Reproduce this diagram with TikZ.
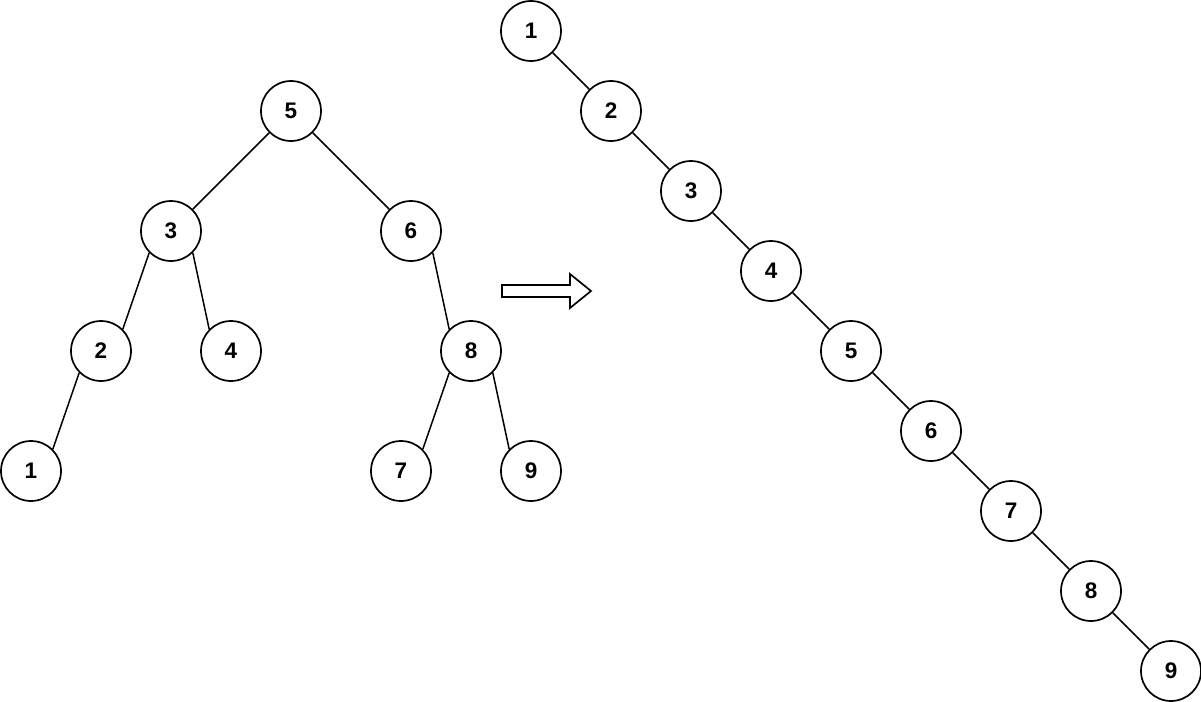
\documentclass[tikz,border=0pt]{standalone}
\usepackage{fontspec}
\setmainfont{Liberation Sans}
\begin{document}
\begin{tikzpicture}[x=1pt,y=-1pt,
  tnode/.style={circle,draw,line width=1.7pt,minimum size=60pt,inner sep=0pt,font=\fontsize{22.5}{22.5}\selectfont\bfseries},
  edge/.style={line width=1.5pt}]
\useasboundingbox (0,0) rectangle (1201,701);
% left tree
\node[tnode] (a5) at (291,111) {5};
\node[tnode] (a3) at (171,231) {3};
\node[tnode] (a6) at (411,231) {6};
\node[tnode] (a2) at (101,351) {2};
\node[tnode] (a4) at (231,351) {4};
\node[tnode] (a8) at (471,351) {8};
\node[tnode] (a1) at (31,471) {1};
\node[tnode] (a7) at (401,471) {7};
\node[tnode] (a9) at (531,471) {9};
\draw[edge] (a5.225) -- (a3.45);
\draw[edge] (a5.-45) -- (a6.135);
\draw[edge] (a3.225) -- (a2.45);
\draw[edge] (a3.-45) -- (a4.135);
\draw[edge] (a2.225) -- (a1.45);
\draw[edge] (a6.-45) -- (a8.135);
\draw[edge] (a8.225) -- (a7.45);
\draw[edge] (a8.-45) -- (a9.135);
% arrow
\draw[line width=1.7pt,line join=miter] (502,285) -- (570,285) -- (570,274) -- (591,291) -- (570,308) -- (570,297) -- (502,297) -- cycle;
% right chain
\foreach \i in {1,...,9} {
  \node[tnode] (b\i) at ({531+80*(\i-1)},{31+80*(\i-1)}) {\i};
}
\foreach \i [evaluate=\i as \j using int(\i+1)] in {1,...,8} {
  \draw[edge] (b\i.-45) -- (b\j.135);
}
\end{tikzpicture}
\end{document}
